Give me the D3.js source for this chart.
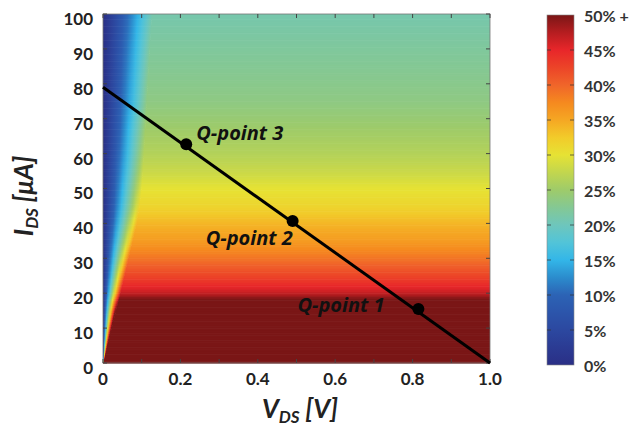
<!DOCTYPE html>
<html>
<head>
<meta charset="utf-8">
<script src="https://cdn.jsdelivr.net/npm/d3@7"></script>
<style>
  body { margin: 0; background: #fff; }
  text { font-family: Lato, "Open Sans", sans-serif; }
</style>
</head>
<body>
<script>
// efficiency colour map (percent -> colour)
var cbValues = [0, 2.5, 5, 7.5, 10, 12.5, 15, 17.5, 20, 22.5, 25, 27.5, 30, 32.5, 35, 37.5, 40, 42.5, 45, 47.5, 50];
var cbColors = ["#2a2f86", "#2b3b93", "#2c48a0", "#2c55ab", "#2c63b5", "#2b8ccd", "#33b6e8", "#52c4d8", "#6ec6bc",
                "#84c894", "#9ecb6a", "#c2d64e", "#e6e234", "#f2cb2a", "#f5a723", "#f5891f", "#f0652a", "#ec4428",
                "#e8262a", "#b51d20", "#7a1616"];
var cbTickLabels = ["0%", "5%", "10%", "15%", "20%", "25%", "30%", "35%", "40%", "45%", "50% +"];

// saturated-region efficiency along I_DS (uA -> %)
var satI   = [0, 5, 10, 15, 18, 20, 22, 25, 30, 35, 40, 45, 50, 55, 60, 65, 70, 75, 80, 85, 90, 95, 100];
var satEff = [58, 58, 57, 55, 51, 47, 45, 42.5, 39, 36, 34, 31.5, 30, 28, 26.5, 25.5, 24.5, 23.5, 23, 22.5, 22, 21.5, 21];

// knee of the triode wedge (I_DS uA -> V_DS V)
var kneeI = [0, 10, 20, 30, 40, 45, 50, 60, 70, 80, 90, 100];
var kneeV = [0, 0.022, 0.044, 0.065, 0.086, 0.094, 0.099, 0.105, 0.11, 0.115, 0.12, 0.126];

// load line and operating points
var loadLine = [[0, 79], [1.0, 0]];
var qNames = ["Q-point 1", "Q-point 2", "Q-point 3"];
var qV = [0.815, 0.49, 0.215];
var qI = [15.5, 40.7, 62.7];

var xTicks = [0, 0.2, 0.4, 0.6, 0.8, 1.0];
var yTicks = [0, 10, 20, 30, 40, 50, 60, 70, 80, 90, 100];

var W = 631, H = 430;
var plot = { left: 103, right: 490, top: 14, bottom: 363 };
var bar = { left: 547, right: 574, top: 15, bottom: 365 };

var svg = d3.select(document.body).append("svg")
  .attr("width", W).attr("height", H);
var defs = svg.append("defs");

var x = d3.scaleLinear().domain([0, 1]).range([plot.left, plot.right]);
var y = d3.scaleLinear().domain([0, 100]).range([plot.bottom, plot.top]);
var color = d3.scaleLinear().domain(cbValues).range(cbColors).clamp(true);
var effAt = d3.scaleLinear().domain(satI).range(satEff);
var kneeAt = d3.scaleLinear().domain(kneeI).range(kneeV);

// heat map, drawn as thin rows
var rows = d3.range(0, 100, 0.5);
var heat = svg.append("g").attr("class", "heat");
rows.forEach(function (i0, k) {
  var ic = i0 + 0.25;
  var es = effAt(ic), vk = kneeAt(ic);
  var yTop = y(i0 + 0.5), hgt = y(i0) - y(i0 + 0.5) + 0.6;
  heat.append("rect")
    .attr("x", x(vk)).attr("y", yTop)
    .attr("width", x(1) - x(vk)).attr("height", hgt)
    .attr("fill", color(es));
  var gid = "tri" + k;
  var g = defs.append("linearGradient").attr("id", gid)
    .attr("x1", "0%").attr("x2", "100%").attr("y1", "0%").attr("y2", "0%");
  d3.range(0, 1.0001, 0.1).forEach(function (t) {
    g.append("stop").attr("offset", (t * 100) + "%").attr("stop-color", color(es * t));
  });
  heat.append("rect")
    .attr("x", x(0)).attr("y", yTop)
    .attr("width", x(vk) - x(0) + 0.5).attr("height", hgt)
    .attr("fill", "url(#" + gid + ")");
});

// frame and inside ticks
svg.append("rect")
  .attr("x", plot.left).attr("y", plot.top)
  .attr("width", plot.right - plot.left).attr("height", plot.bottom - plot.top)
  .attr("fill", "none").attr("stroke", "#777").attr("stroke-width", 0.8);

var tickLen = 4;
var ticks = svg.append("g").attr("stroke", "#444").attr("stroke-width", 1);
d3.range(0, 1.0001, 0.1).forEach(function (v) {
  ticks.append("line").attr("x1", x(v)).attr("x2", x(v)).attr("y1", plot.bottom).attr("y2", plot.bottom - tickLen);
  ticks.append("line").attr("x1", x(v)).attr("x2", x(v)).attr("y1", plot.top).attr("y2", plot.top + tickLen);
});
yTicks.forEach(function (v) {
  ticks.append("line").attr("x1", plot.left).attr("x2", plot.left + tickLen).attr("y1", y(v)).attr("y2", y(v));
  ticks.append("line").attr("x1", plot.right).attr("x2", plot.right - tickLen).attr("y1", y(v)).attr("y2", y(v));
});

// tick labels
svg.append("g").selectAll("text").data(yTicks).join("text")
  .attr("x", plot.left - 10).attr("y", function (d) { return y(d) + 5; })
  .attr("dy", "0.35em").attr("text-anchor", "end")
  .attr("font-size", 17).attr("font-weight", 700).attr("fill", "#222")
  .text(function (d) { return d; });

svg.append("g").selectAll("text").data(xTicks).join("text")
  .attr("x", function (d) { return x(d); }).attr("y", plot.bottom + 16)
  .attr("dy", "0.35em").attr("text-anchor", "middle")
  .attr("font-size", 17).attr("font-weight", 700).attr("fill", "#222")
  .text(function (d) { return d === 0 ? "0" : d.toFixed(1); });

// axis titles
var yt = svg.append("text")
  .attr("transform", "translate(33,196) rotate(-90)")
  .attr("text-anchor", "middle")
  .attr("font-size", 26).attr("font-style", "italic").attr("font-weight", 700).attr("fill", "#222");
yt.append("tspan").text("I");
yt.append("tspan").attr("font-size", 17).attr("dy", 5).text("DS");
yt.append("tspan").attr("dy", -5).text(" [μA]");

var xt = svg.append("text")
  .attr("x", 300).attr("y", 418)
  .attr("text-anchor", "middle")
  .attr("font-size", 26).attr("font-style", "italic").attr("font-weight", 700).attr("fill", "#222");
xt.append("tspan").text("V");
xt.append("tspan").attr("font-size", 17).attr("dy", 5).text("DS");
xt.append("tspan").attr("dy", -5).text(" [V]");

// load line
svg.append("path")
  .datum(loadLine)
  .attr("d", d3.line().x(function (d) { return x(d[0]); }).y(function (d) { return y(d[1]); }))
  .attr("stroke", "#000").attr("stroke-width", 3).attr("fill", "none");

// Q-points
var labelDx = [-121, -87, 10];
var labelDy = [-4, 17, -11];
svg.append("g").selectAll("circle").data(qV).join("circle")
  .attr("cx", function (d) { return x(d); })
  .attr("cy", function (d, i) { return y(qI[i]); })
  .attr("r", 6).attr("fill", "#000");
svg.append("g").selectAll("text").data(qNames).join("text")
  .attr("x", function (d, i) { return x(qV[i]) + labelDx[i]; })
  .attr("y", function (d, i) { return y(qI[i]) + labelDy[i]; })
  .attr("dy", "0.35em")
  .style("font-family", "'Open Sans', sans-serif")
  .attr("font-size", 20).attr("font-style", "italic").attr("font-weight", 700).attr("fill", "#111")
  .text(function (d) { return d; });

// colour bar
var cb = d3.scaleLinear().domain([0, 50]).range([bar.bottom, bar.top]);
var grad = defs.append("linearGradient").attr("id", "cbgrad")
  .attr("x1", "0%").attr("x2", "0%").attr("y1", "100%").attr("y2", "0%");
cbValues.forEach(function (v, i) {
  grad.append("stop").attr("offset", (v / 50 * 100) + "%").attr("stop-color", cbColors[i]);
});
svg.append("rect")
  .attr("x", bar.left).attr("y", bar.top)
  .attr("width", bar.right - bar.left).attr("height", bar.bottom - bar.top)
  .attr("fill", "url(#cbgrad)").attr("stroke", "#888").attr("stroke-width", 0.6);
var cbTickVals = d3.range(0, 51, 5);
var cbt = svg.append("g").attr("stroke", "#333").attr("stroke-width", 1).attr("opacity", 0.7);
cbTickVals.slice(1, -1).forEach(function (v) {
  cbt.append("line").attr("x1", bar.left).attr("x2", bar.left + 4).attr("y1", cb(v)).attr("y2", cb(v));
  cbt.append("line").attr("x1", bar.right - 4).attr("x2", bar.right).attr("y1", cb(v)).attr("y2", cb(v));
});
svg.append("g").selectAll("text").data(cbTickVals).join("text")
  .attr("x", bar.right + 10).attr("y", function (d) { return cb(d) + 1; })
  .attr("dy", "0.35em")
  .attr("font-size", 16).attr("font-weight", 700).attr("fill", "#333")
  .text(function (d, i) { return cbTickLabels[i]; });
</script>
</body>
</html>
